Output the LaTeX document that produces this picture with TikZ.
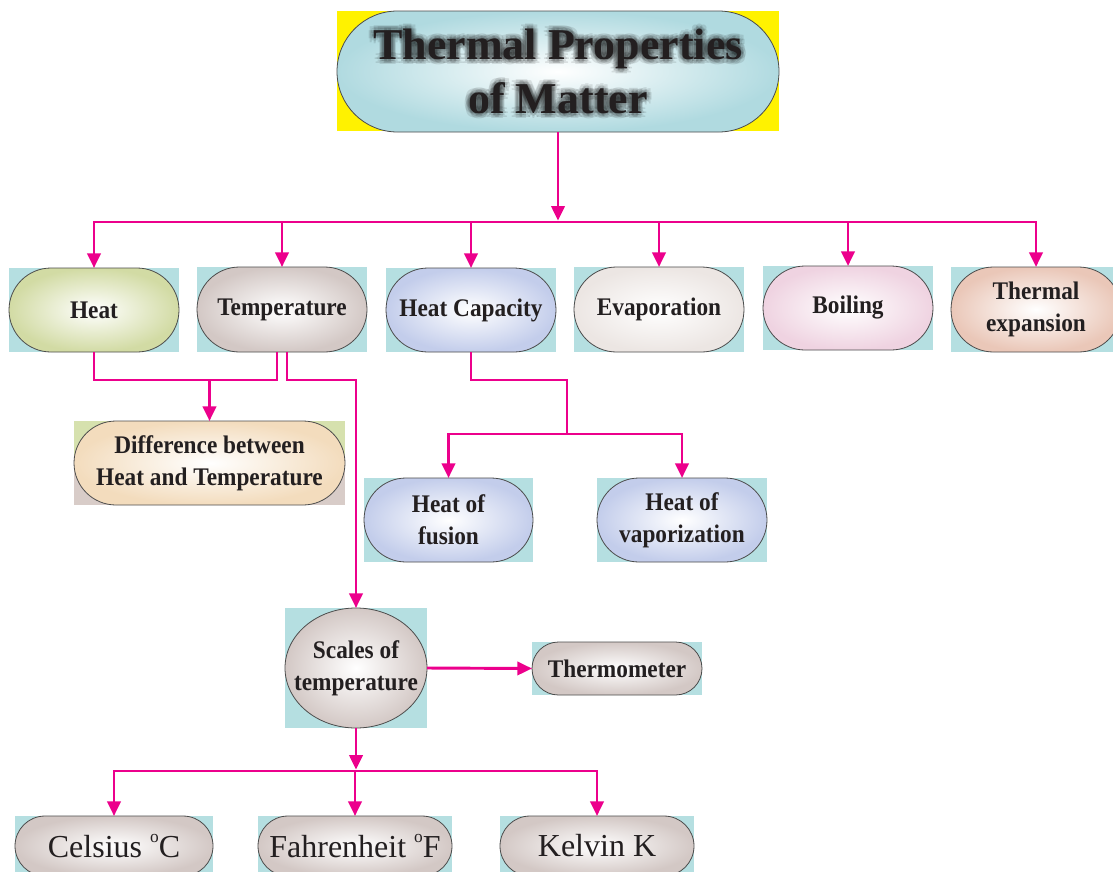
\documentclass[tikz,border=0pt]{standalone}
\usepackage{fontspec}
\setmainfont{Liberation Serif}
\usepackage{graphicx}
\usetikzlibrary{shapes.misc,shapes.geometric,arrows.meta,calc}
\definecolor{mag}{HTML}{EC008C}
\definecolor{bgc}{HTML}{B5DFE1}
\definecolor{ylw}{HTML}{FFF200}
\definecolor{tx}{HTML}{231F20}
\definecolor{cTitle}{HTML}{B0DAE0}
\definecolor{cHeat}{HTML}{D2DBA4}
\definecolor{cTemp}{HTML}{D3C8C5}
\definecolor{cHC}{HTML}{C3CDEB}
\definecolor{cEvap}{HTML}{ECE6E3}
\definecolor{cBoil}{HTML}{EFD3E1}
\definecolor{cExp}{HTML}{EAC7B8}
\definecolor{cDiff}{HTML}{F3DCBD}
\definecolor{dG}{HTML}{D6E1AE}
\definecolor{dP}{HTML}{D8CCC8}
\newcommand\cz[1]{\scalebox{0.92}[1]{#1}}
\newcommand\lbl{\fontsize{19}{24}\selectfont\bfseries}
\newcommand\reg{\fontsize{24}{28}\selectfont}
\newcommand\ttl{\fontsize{33}{40}\selectfont\bfseries}
\newcommand\dg{\raisebox{1.05ex}{\fontsize{13}{13}\selectfont o}}
\tikzset{
 conn/.style={draw=mag,line width=2.2pt},
 arr/.style={conn,-{Triangle[length=11pt,width=10pt]}},
 shp/.style={rounded rectangle,draw=black!70,line width=0.6pt,inner sep=0pt,outer sep=0pt,inner color=white},
 lab/.style={text=tx,align=center,inner sep=0pt,font=\lbl},
}
\newcommand\boxnode[8][]{%
 \fill[bgc] (#3,#4) rectangle (#5,#6);
 \node[shp,outer color=#7,minimum width={(#5-#3)*0.75pt},minimum height={(#6-#4)*0.75pt}] (#2) at ({(#3+#5)/2},{(#4+#6)/2}) {};
 \node[lab,#1] (#2t) at (#2) {#8};}
\begin{document}
\begin{tikzpicture}[x=0.75pt,y=-0.75pt]
\useasboundingbox (0,0) rectangle (1113,871);
\fill[white] (0,0) rectangle (1113,871);
% title
\fill[ylw] (337,11) rectangle (779,131);
\node[shp,outer color=cTitle,minimum width={442*0.75pt},minimum height={121*0.75pt}] (title) at (558,71.5) {};
\foreach \dx/\dy [count=\k] in {3/0,-3/0,0/3,0/-3,2/2,-2/2,2/-2,-2/-2,5/0,-5/0,0/5,0/-5,4/4,-4/4,4/-4,-4/-4}
  \node[lab,font=\ttl,text=black,opacity=0.10] (sh\k) at ($(title)+(\dx,\dy)$) {Thermal Properties\\of Matter};
\node[lab,font=\ttl] (titlet) at (title) {Thermal Properties\\of Matter};
% first row
\boxnode{heat}{9}{268}{179}{352}{cHeat}{\cz{Heat}}
\boxnode{temp}{197}{267}{367}{352}{cTemp}{\cz{Temperature}}
\boxnode{hc}{386}{268}{556}{352}{cHC}{\cz{Heat Capacity}}
\boxnode{evap}{574}{267}{744}{352}{cEvap}{\cz{Evaporation}}
\boxnode{boil}{763}{266}{933}{350}{cBoil}{\cz{Boiling}}
\boxnode{thexp}{951}{267}{1121}{352}{cExp}{\cz{Thermal}\\\cz{expansion}}
% difference
\fill[dG] (74,421) rectangle (345,457);
\fill[dP] (74,457) rectangle (345,505);
\node[shp,outer color=cDiff,minimum width={271*0.75pt},minimum height={84*0.75pt}] (diff) at (209.5,463) {};
\node[lab] (difft) at (diff) {\cz{Difference between}\\\cz{Heat and Temperature}};
% heat capacity children
\boxnode{fus}{364}{478}{533}{562}{cHC}{\cz{Heat of}\\\cz{fusion}}
\boxnode{vap}{597}{478}{767}{562}{cHC}{\cz{Heat of}\\\cz{vaporization}}
% scales
\fill[bgc] (285,608) rectangle (427,728);
\node[shp,ellipse,outer color=cTemp,minimum width={142*0.75pt},minimum height={120*0.75pt}] (sc) at (356,668) {};
\node[lab] (sct) at (sc) {\cz{Scales of}\\\cz{temperature}};
\boxnode{thermo}{532}{642}{702}{695}{cTemp}{\cz{Thermometer}}
% bottom row
\boxnode[font=\reg]{cel}{15}{816}{213}{876}{cTemp}{Celsius \dg C}
\boxnode[font=\reg]{fah}{258}{816}{452}{876}{cTemp}{Fahrenheit \dg F}
\boxnode[font=\reg]{kel}{500}{816}{694}{876}{cTemp}{Kelvin K}
% connectors
\coordinate (hub) at (558,222);
\draw[arr,shorten >=1pt] (title.south) -- (hub);
\draw[conn,line cap=rect] (hub -| heat.north) -- (hub -| thexp.north);
\foreach \n in {heat,temp,hc,evap,boil,thexp}
  \draw[arr] (hub -| \n.north) -- (\n.north);
\coordinate (tj) at (277,380);
\draw[conn] (heat.south) |- (tj) -- ($(temp.south)+(-5,0)$);
\draw[arr] (diff.north |- tj) -- (diff.north);
\coordinate (tr) at (sc.north |- tj);
\draw[arr] ($(temp.south)+(5,0)$) |- (tr) -- (sc.north);
\coordinate (hcm) at (567,380);
\coordinate (hcb) at (567,434);
\draw[conn] (hc.south) |- (hcm) -- (hcb);
\draw[conn,line cap=rect] (hcb -| fus.north) -- (hcb -| vap.north);
\draw[arr] (hcb -| fus.north) -- (fus.north);
\draw[arr] (hcb -| vap.north) -- (vap.north);
\draw[arr] (sc.east) -- (thermo.west);
\coordinate (sb) at (356,771);
\draw[arr,shorten >=1pt] (sc.south) -- (sb);
\draw[conn,line cap=rect] (sb -| cel.north) -- (sb -| kel.north);
\foreach \n in {cel,fah,kel}
  \draw[arr] (sb -| \n.north) -- (\n.north);
\end{tikzpicture}
\end{document}
